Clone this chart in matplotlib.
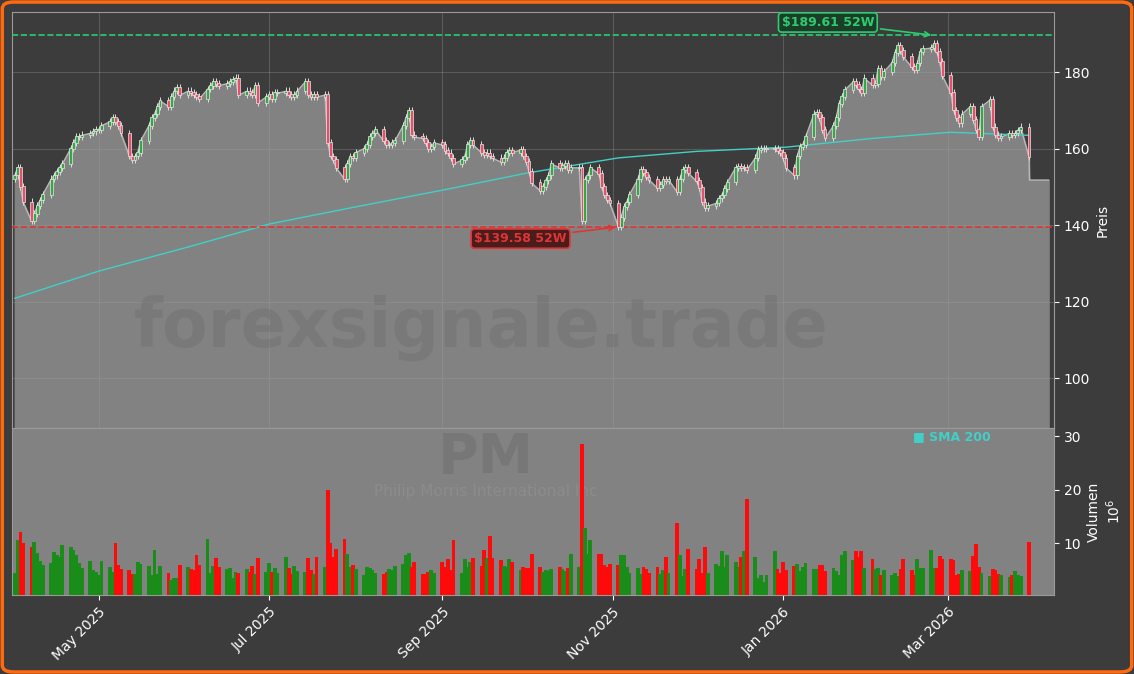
import numpy as np
import pandas as pd
import matplotlib
matplotlib.use("Agg")
import matplotlib.pyplot as plt
import matplotlib.dates as mdates
from matplotlib.patches import FancyBboxPatch

dates = pd.bdate_range("2025-04-01", "2026-03-30")

close_apr = [153,155,150,146, 141,143,145,146.5,148, 152,153,154,155,156, 160,161.5,163,163,163.5, 164,164.5,165]
close_may = [165,166, 167,168,167,166,164, 158,157,158,159,162, 166,168,169,171,172.5, 171,173.5,175,176,174]
close_jun = [175,174.5,174,173.5,173, 175.5,176.5,177.5,177,176.5, 177,177.5,178,178.4,174, 175,174.5,174,176.5,172, 173.5]
close_jul = [174,173,174.5,174.5, 175,174,173.5,174,175, 177.5,174,173.5,174,173.5, 174,161.5,158,157,155, 152,156,158,157.5]
close_aug = [159, 160,161,163,164,165, 162,161,161,161.5,162, 166,168,170,163.5,163, 162.7,161.5,160,160.5,161.5]
close_sep = [161, 159.5,158.8,157.5,156, 157,157.8,161,162,161, 159,158.3,158.8,158,157.5, 156.5,157.5,159,159.5,159, 159.6,158]
close_oct = [156.5,154,151, 149,150,151.7,153,156, 155,155.5,156,154.4,155, 155,141,151.8,153,155, 153.5,150,147.8,146.5,145.7]
close_nov = [139.6,142,144.7,146,148, 152,154.4,153.6,152.5,151.8, 149.7,150.5,151.8,151.5,151.8, 148.7,152,154.4,155,153.6]
close_dec = [151.5,149.7,146,144.4,145, 145.7,147,147.8,149.5,151.2, 155,155.2,155,155,154.4, 157.5,159.6,160,160,160, 160,159.5,159]
close_jan = [157.5,155, 153,158,160.4,161,163, 169,169.5,168,165,162.7, 166,168,171.8,173.5,175.3, 177.4,176.6,175.5,174.5,178.4]
close_feb = [176.6,177,181,178.7,180, 182.5,185,187,185.5,184, 181.3,180.5,182.3,185.3,186, 186.3,187.5,185.3,182.6,179]
close_mar = [174.5,170,168,166.6,169, 171,167.5,165,163,171, 172.7,165.6,163.5,162.7,163, 164,163.5,164,164.8,165.6, 157.8]
last_price = 151.8
last_date = "2026-04-06"

vol_apr = [4.5,10.6,12.1,10,9.2,10.3,8.2,6.6,6,6.3,8.4,7.7,7.5,9.7,9.2,8.8,7.8,6.3,5.4,6.6,5,4.7]
vol_may = [4.1,6.6,5.6,4.7,10.1,6,5.2,5,4.2,4.2,6.5,6.2,5.8,4,8.7,4.2,5.8,4.5,3.2,3.5,3.5,6]
vol_jun = [5.5,5.2,5,7.8,6,10.8,4.5,5.8,7.2,5.6,5.2,5.4,3.5,4.6,4.4,5.2,4.6,5.8,4.2,7.2,4.6]
vol_jul = [6.3,4.6,5.4,4.5, 7.4,5.4,4.2,5.8,4.8, 4.6,7.2,5,4.2,7.4, 5.6,20,10,7.4,9,10.7, 8,5.5,6]
vol_aug = [5.2,4,5.5,5.4,5,4.5,4.2,4.6,5.2,5,5.7,6.2,7.7,8.2,5.5,6.4,4.2,4.2,4.6,5,4.4]
vol_sep = [6.5,5.5,7,5,10.6,4.5,7,5.5,6.4,7.3,5.8,8.8,7.2,11.3,7.2,6.8,5.7,5.5,7,6.5,5,5.6]
vol_oct = [5.3,5.3,8, 5.5,4.7,5,4.8,5.2, 5.5,5.2,4.8,5.3,8, 5.5,28.5,12.8,8,10.5, 8,8,6,5.5,6.2]
vol_nov = [6,7.8,7.8,5.5,4.5, 5.3,4.3,5.5,5.2,4.5, 5.5,4.3,5,7.5,4.5, 13.7,7.8,3.8,5.2,9]
vol_dec = [5.2,7,4.5,9.2,4.5, 6.2,5.8,8.5,5.5,7.8, 6.5,5.5,7.5,8.6,18.3, 7.5,3.5,4,2.8,4, 8.5,5.2,4.5]
vol_jan = [6.5,5,5.8,6.2,4.8,5.5,6.3,5.2,5.2,6,6,4.8,5.4,4.8,4,7.8,8.6,6.8,8.6,7.5,8.6,5.4]
vol_feb = [7,5.2,5.4,4,5,4,4.5,3.8,5.2,7,5,4,7,5.3,5.3,8.7,5.3,5.4,7.6,7]
vol_mar = [7,6.8,4,4.2,5,4.8,7.6,9.8,5.5,4.4,3.8,5.2,5,4.2,4,3.7,4,4.8,4,3.8,10.3]

sma_dates = ["2025-04-01","2025-05-01","2025-06-02","2025-07-01","2025-08-01","2025-09-02",
             "2025-10-01","2025-11-03","2025-12-01","2026-01-02","2026-02-02","2026-03-02","2026-03-30"]
sma_vals = [120.9,128.0,134.3,140.3,144.8,149.3,153.6,157.6,159.3,160.4,162.7,164.3,163.5]

high52 = 189.61
high52_date = "2026-02-24"
low52 = 139.58
low52_date = "2025-11-03"

close = np.array(close_apr+close_may+close_jun+close_jul+close_aug+close_sep+close_oct+close_nov+close_dec+close_jan+close_feb+close_mar)
vol = np.array(vol_apr+vol_may+vol_jun+vol_jul+vol_aug+vol_sep+vol_oct+vol_nov+vol_dec+vol_jan+vol_feb+vol_mar)
n = min(len(dates), len(close), len(vol))
dates = dates[:n]; close = close[:n]; vol = vol[:n]
opn = np.concatenate([[close[0]-1], close[:-1]])
up = close >= opn
hi = np.maximum(opn, close) + 1.0
lo = np.minimum(opn, close) - 0.8

BG = "#3c3c3c"
fig = plt.figure(figsize=(11.34, 6.74), dpi=100, facecolor=BG)
fig.patches.append(FancyBboxPatch((0.002, 0.003), 0.996, 0.994, boxstyle="round,pad=0,rounding_size=0.01",
                                  transform=fig.transFigure, fill=False, edgecolor="#ff6a10", linewidth=2.5))
ax = fig.add_axes([0.0106, 0.365, 0.919, 0.617])
axv = fig.add_axes([0.0106, 0.117, 0.919, 0.248], sharex=ax)

x = mdates.date2num(dates)
ymin = 87
ax.set_facecolor(BG)
xf = np.concatenate([x, [x[-1]+0.15, mdates.datestr2num(last_date)]])
yf = np.concatenate([close, [last_price, last_price]])
ax.fill_between(xf, yf, ymin, color="#828282", zorder=1)
ax.plot(xf, yf, color="#b8b8b8", lw=1, zorder=2)
ax.plot(mdates.datestr2num(sma_dates), sma_vals, color="#40d0c8", lw=1, zorder=3)
ax.vlines(x, lo, hi, color="#dddddd", lw=0.7, zorder=4)
ax.bar(x, np.abs(close-opn)+0.2, bottom=np.minimum(opn, close), width=1.0,
       color=np.where(up, "#35a845", "#e8506a"), edgecolor="#e8e8e8", linewidth=0.5, zorder=5)
ax.axhline(high52, color="#2ecc71", ls="--", lw=1.2, zorder=3)
ax.axhline(low52, color="#e03535", ls="--", lw=1.2, zorder=3)
xh = mdates.datestr2num(high52_date); xl = mdates.datestr2num(low52_date)
ax.annotate(f"${high52:.2f} 52W", xy=(xh, high52), xytext=(xh-38, 193),
            color="#2ecc71", fontsize=9, fontweight="bold", ha="center", va="center",
            bbox=dict(boxstyle="round,pad=0.25", fc="#1c3d28", ec="#2ecc71", lw=1.2),
            arrowprops=dict(arrowstyle="->", color="#2ecc71", lw=1.2), zorder=10)
ax.annotate(f"${low52:.2f} 52W", xy=(xl, low52), xytext=(xl-35, 136.5),
            color="#e03535", fontsize=9, fontweight="bold", ha="center", va="center",
            bbox=dict(boxstyle="round,pad=0.25", fc="#4a1c1c", ec="#e03535", lw=1.2),
            arrowprops=dict(arrowstyle="->", color="#e03535", lw=1.2), zorder=10)
ax.text(0.45, 0.24, "forexsignale.trade", transform=ax.transAxes, fontsize=48, fontweight="bold",
        color="#707070", alpha=0.45, ha="center", va="center", zorder=6)
ax.set_ylim(ymin, 195.7)
ax.set_xlim(mdates.datestr2num("2025-03-31"), mdates.datestr2num("2026-04-08"))
ax.yaxis.tick_right(); ax.yaxis.set_label_position("right")
ax.set_yticks([100, 120, 140, 160, 180])
ax.set_ylabel("Preis", color="white", fontsize=10)
ax.grid(True, color="#a0a0a0", alpha=0.3, lw=0.8, zorder=2.5)
ax.tick_params(axis="x", labelbottom=False, length=0)
ax.tick_params(axis="y", colors="white", labelsize=10)

axv.set_facecolor("#828282")
axv.bar(x, vol, width=1.35, color=np.where(up, "#1a8c1a", "#ff0a0a"), zorder=3)
axv.set_ylim(0.3, 31.5)
axv.yaxis.tick_right(); axv.yaxis.set_label_position("right")
axv.set_yticks([10, 20, 30])
axv.set_ylabel("Volumen\n10$^6$", color="white", fontsize=10)
axv.tick_params(axis="y", colors="white", labelsize=10)
axv.tick_params(axis="x", colors="white", labelsize=10)
axv.xaxis.set_major_locator(mdates.MonthLocator(bymonth=[1, 3, 5, 7, 9, 11]))
axv.xaxis.set_major_formatter(mdates.DateFormatter("%b %Y"))
plt.setp(axv.get_xticklabels(), rotation=45, ha="right", rotation_mode="anchor")
axv.text(0.455, 0.82, "PM", transform=axv.transAxes, fontsize=40, fontweight="bold",
         color="#777777", ha="center", va="center", zorder=1)
axv.text(0.455, 0.62, "Philip Morris International Inc", transform=axv.transAxes, fontsize=11,
         color="#8c8c8c", ha="center", va="center", zorder=1)
axv.text(0.865, 0.95, "■ SMA 200", transform=axv.transAxes, fontsize=9, fontweight="bold",
         color="#40d0c8", ha="left", va="center", zorder=6)
for a in (ax, axv):
    for s in a.spines.values():
        s.set_color("#9a9a9a")
fig.savefig("out.png", dpi=100, facecolor=BG)
